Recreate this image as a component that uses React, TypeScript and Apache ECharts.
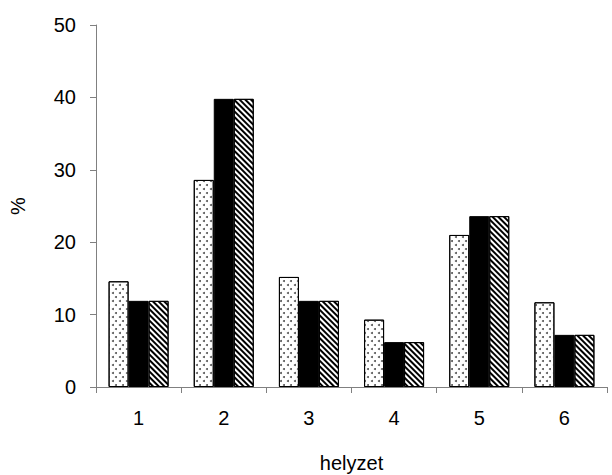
import React, { useEffect, useRef } from "react";
import * as echarts from "echarts";

const categories = ["1", "2", "3", "4", "5", "6"];
const seriesA = [14.6, 28.6, 15.2, 9.3, 21.0, 11.7];
const seriesB = [11.9, 39.8, 11.9, 6.2, 23.6, 7.2];
const seriesC = [11.9, 39.8, 11.9, 6.2, 23.6, 7.2];
const yTicks = { min: 0, max: 50, interval: 10 };

export default function App() {
  const ref = useRef<HTMLDivElement>(null);
  useEffect(() => {
    const chart = echarts.init(ref.current!, null, { renderer: "svg" });
    const font = "Liberation Sans, Arial, sans-serif";
    const fs = 20;
    const border = { borderColor: "#000", borderWidth: 1 };
    chart.setOption({
      animation: false,
      grid: { left: 96, right: 5, top: 25, bottom: 88, containLabel: false, outerBoundsMode: "none" },
      xAxis: {
        type: "category",
        data: categories,
        name: "helyzet",
        nameLocation: "middle",
        nameGap: 66,
        nameTextStyle: { color: "#000", fontSize: fs, fontFamily: font },
        axisLine: { lineStyle: { color: "#808080", width: 1 } },
        axisTick: { show: true, length: 6, lineStyle: { color: "#808080" } },
        axisLabel: { color: "#000", fontSize: fs, fontFamily: font, margin: 21 },
      },
      yAxis: {
        type: "value",
        min: yTicks.min,
        max: yTicks.max,
        interval: yTicks.interval,
        name: "%",
        nameLocation: "middle",
        nameGap: 68,
        nameRotate: 90,
        nameTextStyle: { color: "#000", fontSize: fs, fontFamily: font },
        axisLine: { show: true, lineStyle: { color: "#808080", width: 1 } },
        axisTick: { show: true, length: 6, lineStyle: { color: "#808080" } },
        splitLine: { show: false },
        axisLabel: { color: "#000", fontSize: fs, fontFamily: font, margin: 20 },
      },
      series: [
        {
          type: "bar",
          data: seriesA,
          barWidth: 20,
          barGap: "0%",
          itemStyle: {
            color: "#fff",
            ...border,
            decal: {
              symbol: "circle",
              symbolSize: 1,
              color: "#555",
              dashArrayX: [[1.5, 4.5], [0, 3, 1.5, 1.5]],
              dashArrayY: [1.5, 1.5],
              rotation: 0,
            },
          },
        },
        {
          type: "bar",
          data: seriesB,
          barWidth: 20,
          barGap: "0%",
          itemStyle: { color: "#000", ...border },
        },
        {
          type: "bar",
          data: seriesC,
          barWidth: 20,
          barGap: "0%",
          itemStyle: {
            color: "#fff",
            ...border,
            decal: {
              symbol: "rect",
              symbolSize: 1,
              color: "#000",
              dashArrayX: [1, 0],
              dashArrayY: [1.8, 1.8],
              rotation: Math.PI / 4,
            },
          },
        },
      ],
    });
    return () => chart.dispose();
  }, []);
  return <div ref={ref} style={{ width: 612, height: 475, position: "absolute", left: 0, top: 0 }} />;
}
